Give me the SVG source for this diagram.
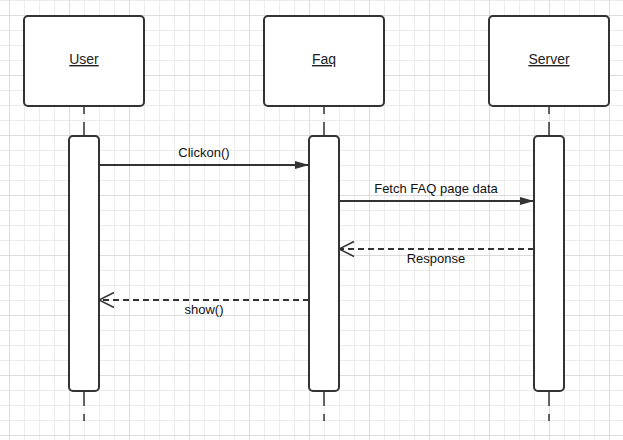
<svg xmlns="http://www.w3.org/2000/svg" width="623" height="440" viewBox="0 0 623 440">
<defs>
<pattern id="minor" width="15" height="15" patternUnits="userSpaceOnUse" x="9" y="0">
<path d="M0.5 0V15M0 0.5H15" fill="none" stroke="#ececec" stroke-width="1"/>
</pattern>
<pattern id="major" width="60" height="60" patternUnits="userSpaceOnUse" x="9" y="15">
<path d="M0.5 0V60M0 0.5H60" fill="none" stroke="#dcdcdc" stroke-width="1"/>
</pattern>
<marker id="filled" markerWidth="14" markerHeight="8" refX="14" refY="4" orient="auto" markerUnits="userSpaceOnUse">
<path d="M0 0L14 4L0 8Z" fill="#333"/>
</marker>
<marker id="open" markerWidth="17" markerHeight="18" refX="16" refY="9" orient="auto" markerUnits="userSpaceOnUse">
<path d="M1 1.5L16 9L1 16.5" fill="none" stroke="#333" stroke-width="1.5"/>
</marker>
</defs>
<style>
.box{fill:#fff;stroke:#333;stroke-width:2}
.life{stroke:#333;stroke-width:1.5;fill:none}
.title{font-family:"Liberation Sans",Arial,sans-serif;font-size:14px;fill:#222;text-anchor:middle;text-decoration:underline}
.lbl{font-family:"Liberation Sans",Arial,sans-serif;font-size:13px;fill:#111;text-anchor:middle}
.msg{stroke:#333;stroke-width:2;fill:none}
.ret{stroke:#333;stroke-width:2;fill:none;stroke-dasharray:6 4}
</style>
<rect width="623" height="440" fill="#fff"/>
<rect width="623" height="440" fill="url(#minor)"/>
<rect width="623" height="440" fill="url(#major)"/>

<g id="lifelines">
<path class="life" d="M84 106V114M84 122V136M84 391V406M84 414V421"/>
<path class="life" d="M324 106V114M324 122V136M324 391V406M324 414V421"/>
<path class="life" d="M549 106V114M549 122V136M549 391V406M549 414V421"/>
</g>

<g id="user">
<rect class="box" x="24" y="16" width="120" height="90" rx="4"/>
<text class="title" x="84" y="64">User</text>
</g>
<g id="faq">
<rect class="box" x="264" y="16" width="120" height="90" rx="4"/>
<text class="title" x="324" y="64">Faq</text>
</g>
<g id="server">
<rect class="box" x="489" y="16" width="120" height="90" rx="4"/>
<text class="title" x="549" y="64">Server</text>
</g>

<g id="user-activation"><rect class="box" x="69" y="136" width="30" height="255" rx="4"/></g>
<g id="faq-activation"><rect class="box" x="309" y="136" width="30" height="255" rx="4"/></g>
<g id="server-activation"><rect class="box" x="534" y="136" width="30" height="255" rx="4"/></g>

<g id="connectors">
<path class="msg" d="M99 165H309" marker-end="url(#filled)"/>
<text class="lbl" x="204" y="157">Clickon()</text>
<path class="msg" d="M339 201H534" marker-end="url(#filled)"/>
<text class="lbl" x="436" y="193">Fetch FAQ page data</text>
<path class="ret" d="M534 249H339" marker-end="url(#open)"/>
<text class="lbl" x="436" y="263">Response</text>
<path class="ret" d="M309 300H99" marker-end="url(#open)"/>
<text class="lbl" x="204" y="314">show()</text>
</g>
</svg>
